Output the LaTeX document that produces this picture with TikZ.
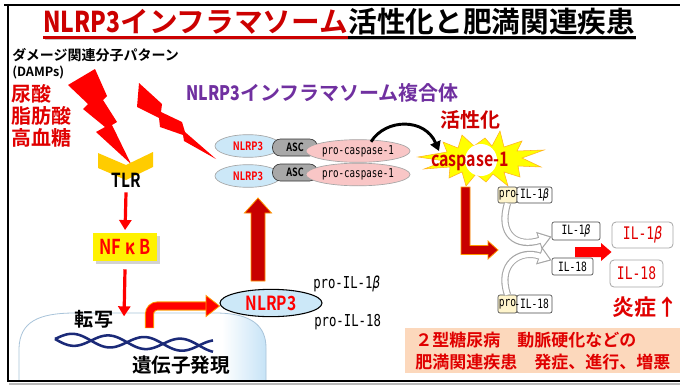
\documentclass[tikz,border=0pt]{standalone}
\usepackage{fontspec}
\setmainfont{Noto Sans CJK JP}[BoldFont={Noto Sans CJK JP Bold}]
\newfontfamily\gcond{Noto Sans CJK JP Bold}[FakeStretch=0.8]
\newfontfamily\gmono{DejaVu Sans Mono}[FakeStretch=0.75]
\usetikzlibrary{arrows.meta,shapes.geometric,calc}
\newcommand\fsz[1]{\fontsize{#1}{#1}\selectfont}

\definecolor{tred}{HTML}{CC0000}
\definecolor{bred}{HTML}{FF0000}
\definecolor{txtred}{HTML}{E00000}
\definecolor{dred}{HTML}{C80000}
\definecolor{purp}{HTML}{7030A0}
\definecolor{lblue}{HTML}{CCE8F8}
\definecolor{lpink}{HTML}{F9C6C6}
\definecolor{ascgray}{HTML}{A8A8A8}
\definecolor{peach}{HTML}{FCD8BC}
\definecolor{gold}{HTML}{FFCC00}
\definecolor{navy}{HTML}{1B2A78}
\definecolor{domeblue}{HTML}{C4E2F6}
\definecolor{domeedge}{HTML}{A9C4DA}
\definecolor{proyel}{HTML}{FFF5CC}
\definecolor{burstedge}{HTML}{FFB020}
\definecolor{edgeorange}{HTML}{FF9900}

% fill of the caspase-1 burst and its bright core
\pgfdeclareradialshading{burst}{\pgfpoint{0bp}{0bp}}{color(0bp)=(yellow); color(28bp)=(yellow); color(44bp)=(burstedge); color(50bp)=(burstedge)}
\pgfdeclareradialshading{glow}{\pgfpoint{0bp}{0bp}}{color(0bp)=(white); color(30bp)=(white); color(46bp)=(yellow); color(50bp)=(yellow)}

\begin{document}
\begin{tikzpicture}[x=0.75pt,y=-0.75pt,
  jp/.style={inner sep=0pt, font={\bfseries\fsz{#1}}},
  bolt/.style={fill=bred, draw=none},
  thinred/.style={draw=bred, line width=2.4pt, shorten >=2pt, -{Triangle[length=7.5pt,width=9pt]}},
  blockdark/.style={fill=dred, draw=edgeorange, line width=0.6pt},
  cplxnl/.style={ellipse, inner sep=0pt, fill=lblue, draw=gray!70, line width=0.5pt,
    minimum width=49.5pt, minimum height=17pt, text=bred, font={\gcond\fsz{8.7}}},
  cplxasc/.style={rectangle, rounded corners=6pt, inner sep=0pt, fill=ascgray,
    draw=gray!40!black, line width=0.5pt, minimum width=33.75pt, minimum height=12.75pt,
    font={\gcond\fsz{8.5}}},
  cplxpc/.style={ellipse, inner sep=0pt, fill=lpink, draw=gray!70, line width=0.5pt,
    minimum width=78pt, minimum height=17pt, font={\gmono\fsz{9.2}}},
  smallbox/.style={rectangle, rounded corners=1.5pt, draw=gray!60!black, fill=white,
    line width=0.5pt, inner sep=0pt, font={\gmono\fsz{9.6}}},
  probox/.style={smallbox, fill=proyel},
  bigbox/.style={rectangle, rounded corners=3pt, draw=gray!70, fill=white, line width=0.6pt,
    inner sep=0pt, text=txtred, font={\gmono\fsz{13}}},
  ghostout/.style={draw=gray!70, line width=5.4pt, -{Triangle[length=10pt,width=13pt]}},
  ghostin/.style={draw=white, line width=3.8pt, shorten >=1.6pt, -{Triangle[length=7.6pt,width=10pt]}}
]
\useasboundingbox (0,0) rectangle (680,385);
\fill[white] (0,0) rectangle (680,385);

% ---------- title ----------
\node[jp=21.5, anchor=base west, text=tred] (ttlA) at (43,33) {{\gcond NLRP3}インフラマソーム};
\node[jp=21.5, anchor=base west] (ttlB) at (ttlA.base east) {活性化と肥満関連疾患};
\coordinate (ul) at (0,37.5);
\coordinate (ulsh) at (0,39.6);
\draw[gray!45, line width=1.2pt] (45,39.6) -- (ttlB.base east |- ulsh);
\draw[tred, line width=1.6pt] (ttlA.base west |- ul) -- (ttlA.base east |- ul);
\draw[black, line width=1.6pt] (ttlB.base west |- ul) -- (ttlB.base east |- ul);

% ---------- damage signals ----------
\node[jp=10.5, anchor=west] (damp) at (12,55) {ダメージ関連分子パターン};
\node[jp=9.5, anchor=west] (dampen) at (12,73) {(DAMPs)};
\node[jp=15, anchor=west, text=txtred] (uric) at (11,94) {尿酸};
\node[jp=15, anchor=west, text=txtred] (fatty) at (11,116) {脂肪酸};
\node[jp=15, anchor=west, text=txtred] (glu) at (11,138) {高血糖};

% lightning bolts
\path[bolt] (68,85) -- (95,69) -- (107,96) -- (103,100) -- (117,122) -- (112,125)
  -- (131,164) -- (96,132) -- (105,127) -- (83,109) -- (88,104) -- cycle;
\path[bolt] (139,83) -- (162,104) -- (161,112) -- (182,122) -- (185,132) -- (216,159)
  -- (184,141) -- (183,135) -- (160,127) -- (159,118) -- (137,107) -- cycle;

% ---------- TLR / NF-kB / transcription ----------
\path[fill=gold] (98,153) -- (126,165) -- (153,152) -- (153,167) -- (126,180) -- (98,168) -- cycle;
\node[inner sep=0pt, font={\gcond\fsz{14.5}}] (tlr) at (126,180) {TLR};

\fill[gray!35] (96,236) rectangle (159.5,264);
\node[rectangle, fill=yellow, inner sep=0pt, minimum width=48pt, minimum height=21pt,
  text=bred, font={\gcond\fsz{15.4}}] (nfkb) at (125,247) {NF\hspace{3pt}\textit{κ}\hspace{3pt}B};

\draw[thinred] ($(tlr.south)+(0,5)$) -- (nfkb.north);

% gene expression mound
\def\dome{(19,381) -- (19,348) .. controls (20,322) and (38,313) .. (75,313) -- (215,313)
  .. controls (252,313) and (266,326) .. (266,348) -- (266,381) -- cycle}
\fill[white] \dome;
\begin{scope}
  \clip \dome;
  \shade[left color=white, right color=domeblue] (222,300) rectangle (268,385);
\end{scope}
\draw[domeedge, line width=0.6pt] \dome;

\coordinate (tx) at (124,319);
\draw[thinred] ($(nfkb.south)+(0,8)$) -- (tx);
\node[jp=14.3] (txlbl) at (94,319) {転写};

% DNA double helix
\draw[navy, line width=1.9pt] plot[domain=55:213, samples=100, smooth]
  (\x, {339+0.045*(\x-55)+6*sin(5*(\x-55))});
\draw[navy, line width=1.9pt] plot[domain=55:213, samples=100, smooth]
  (\x, {339+0.045*(\x-55)-6*sin(5*(\x-55))});
\node[jp=14.7] (expr) at (181,365) {遺伝子発現};

% ---------- NLRP3 priming ----------
\node[ellipse, inner sep=0pt, fill=lblue, draw=black, line width=0.8pt,
  minimum width=76.5pt, minimum height=20.5pt, text=bred, font={\gcond\fsz{14.6}}]
  (nlg) at (271,303) {NLRP3};

% bent arrow from the gene to NLRP3
\draw[edgeorange, line width=6.8pt, rounded corners=6pt] (149.5,328) -- (149.5,306) -- (208,306);
\draw[bred, line width=5.4pt, rounded corners=6pt] (149.5,327.5) -- (149.5,306) -- (208,306);
\filldraw[fill=bred, draw=edgeorange, line width=0.6pt] (206,295.5) -- (219.5,306) -- (206,316.5) -- cycle;

\node[inner sep=0pt, anchor=west, font={\gmono\fsz{12.3}}] (p1b) at (313,284) {pro-IL-1\textit{β}};
\node[inner sep=0pt, anchor=west, font={\gmono\fsz{12.3}}] (p18) at (314,322) {pro-IL-18};

% thick arrow up to the complex
\path[blockdark] (251,281) -- (251,213) -- (244.5,213) -- (258,198) -- (271.5,213)
  -- (265,213) -- (265,281) -- cycle;

% ---------- inflammasome complex ----------
\node[jp=15, anchor=west, text=purp] (cplxlbl) at (186,93) {{\gcond NLRP3}インフラマソーム複合体};

\node[cplxnl] (nlA) at (248,146) {NLRP3};
\node[cplxasc] (ascA) at (295,147.5) {ASC};
\node[cplxpc] (pcA) at (358,151) {pro-caspase-1};
\node[cplxnl] (nlB) at (248,176) {NLRP3};
\node[cplxasc] (ascB) at (295,172.5) {ASC};
\node[cplxpc] (pcB) at (358,174.5) {pro-caspase-1};

\node[jp=15, text=tred] (act) at (470,120) {活性化};

% L-shaped arrow from caspase-1 to the cytokines
\path[blockdark] (461,187) -- (470,187) -- (470,245.5) -- (488,245.5) -- (488,241)
  -- (498,250) -- (488,259) -- (488,254.5) -- (461,254.5) -- cycle;

% caspase-1 burst
\shadedraw[shading=burst, draw=burstedge, line width=0.4pt]
  (418,157) -- (447,152) -- (443,142) -- (458,148) -- (462,135) -- (474,146) -- (485,138)
  -- (492,146) -- (500,131) -- (504,147) -- (522,141) -- (517,151) -- (544,150) -- (522,158)
  -- (541,167) -- (518,166) -- (520,177) -- (504,172) -- (508,186) -- (493,174) -- (486,182)
  -- (476,174) -- (466,186) -- (462,172) -- (449,178) -- (450,167) -- (424,169) -- (445,161)
  -- cycle;
\shade[shading=glow] (481,160) circle (16);
\node[inner sep=0pt, text=tred, font={\gcond\fsz{15}}] (casp) at (470,161) {caspase-1};

% activation arrow from the complex to caspase-1
\draw[black, line width=2.2pt, -{Triangle[length=7pt,width=8pt]}]
  (pcA.north east) ++(-24,-1) .. controls (386,118) and (425,118) .. (439,151);

% ---------- cytokine processing ----------
\node[probox, minimum width=14.25pt, minimum height=12pt] (proA) at (507.5,195) {pro};
\node[smallbox, minimum width=26.25pt, minimum height=12pt] (ilA) at (534.5,195) {\llap{-}IL-1\textit{β}};
\node[probox, minimum width=14.25pt, minimum height=13.5pt] (proC) at (507.5,304) {pro};
\node[smallbox, minimum width=26.25pt, minimum height=13.5pt] (ilC) at (534.5,304) {\llap{-}IL-18};

\node[smallbox, minimum width=36pt, minimum height=13.5pt] (ilB) at (576,231) {IL-1\textit{β}};
\node[smallbox, minimum width=30.75pt, minimum height=12.75pt] (il18B) at (572.5,266.5) {IL-18};

\coordinate (endA) at ($(ilB.north west)!0.8!(ilB.south west)$);
\coordinate (endC) at ($(il18B.north west)!0.15!(il18B.south west)$);
\draw[ghostout] (proA.south) .. controls (498,234) and (516,248) .. (endA);
\draw[ghostin] (proA.south) .. controls (498,234) and (516,248) .. (endA);
\draw[ghostout] (proC.north) .. controls (497,264) and (520,249) .. (endC);
\draw[ghostin] (proC.north) .. controls (497,264) and (520,249) .. (endC);

% release arrow
\path[fill=bred] (575,247) -- (601,247) -- (601,243) -- (611.5,252) -- (601,261) -- (601,257)
  -- (575,257) -- cycle;

\node[bigbox, minimum width=45.75pt, minimum height=19.5pt] (bigA) at (642.5,235) {IL-1\textit{β}};
\node[bigbox, minimum width=39.75pt, minimum height=20.25pt] (bigB) at (636.5,273.5) {IL-18};

\node[jp=16.5, anchor=west, text=txtred] (infl) at (612,307) {炎症↑};

% ---------- outcome ----------
\node[fill=peach, anchor=north west, inner xsep=3pt, inner ysep=0pt, minimum width=206.25pt,
  minimum height=33.75pt, align=left, text=txtred, font={\bfseries\fontsize{12.75}{16.5}\selectfont}]
  (dz) at (405,328) {２型糖尿病　動脈硬化などの\\肥満関連疾患　発症、進行、増悪};

% ---------- frame ----------
\draw[line width=1.5pt] (4,5.5) -- (680,5.5);
\draw[line width=1.5pt] (8,5) -- (8,382);
\draw[gray!55, line width=1.2pt] (9,383.8) -- (680,383.8);
\draw[line width=1.6pt] (7,381) -- (680,381);
\end{tikzpicture}
\end{document}
